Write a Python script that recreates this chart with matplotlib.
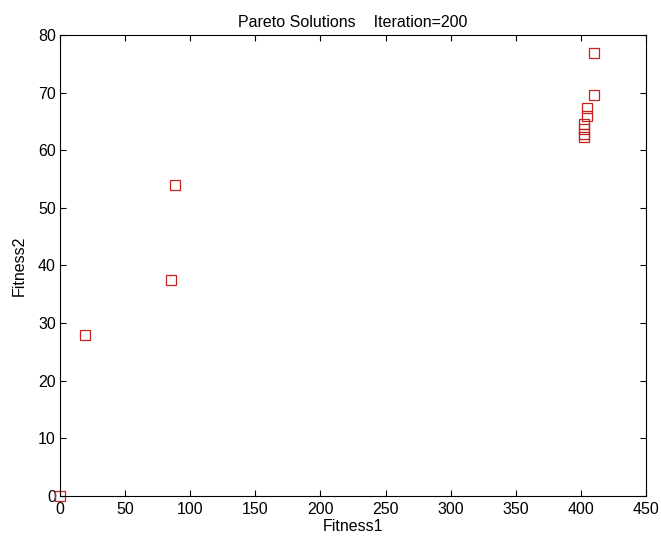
import matplotlib
matplotlib.use("Agg")
import matplotlib.pyplot as plt

# Pareto front
fitness1 = [0, 19.5, 85.5, 88.5, 402.5, 402.5, 402.5, 402.5, 404.8, 405.0, 410.0, 410.0]
fitness2 = [0, 28.0, 37.4, 54.0, 62.3, 62.8, 63.7, 64.5, 66.0, 67.4, 69.5, 76.8]
xticks = [0, 50, 100, 150, 200, 250, 300, 350, 400, 450]
yticks = [0, 10, 20, 30, 40, 50, 60, 70, 80]

plt.rcParams["font.family"] = ["Liberation Sans", "DejaVu Sans"]

fig = plt.figure(figsize=(6.61, 5.45), dpi=100)
ax = fig.add_axes([0.0908, 0.0899, 0.8865, 0.8459])
ax.plot(fitness1, fitness2, "s", mfc="none", mec="#c8201f", ms=7, mew=0.9, clip_on=False)
ax.set_xlim(0, 450)
ax.set_ylim(0, 80)
ax.set_xticks(xticks)
ax.set_yticks(yticks)
ax.tick_params(direction="in", length=4, width=0.8, labelsize=11.5, top=True, right=True)
ax.tick_params(axis="x", pad=4)
ax.tick_params(axis="y", pad=3)
for s in ax.spines.values():
    s.set_linewidth(0.8)
ax.set_xlabel("Fitness1", fontsize=11.5, labelpad=2)
ax.set_ylabel("Fitness2", fontsize=11.5, labelpad=8)
ax.set_title("Pareto Solutions    Iteration=200", fontsize=11.5, pad=6)
fig.savefig("out.png", dpi=100)
